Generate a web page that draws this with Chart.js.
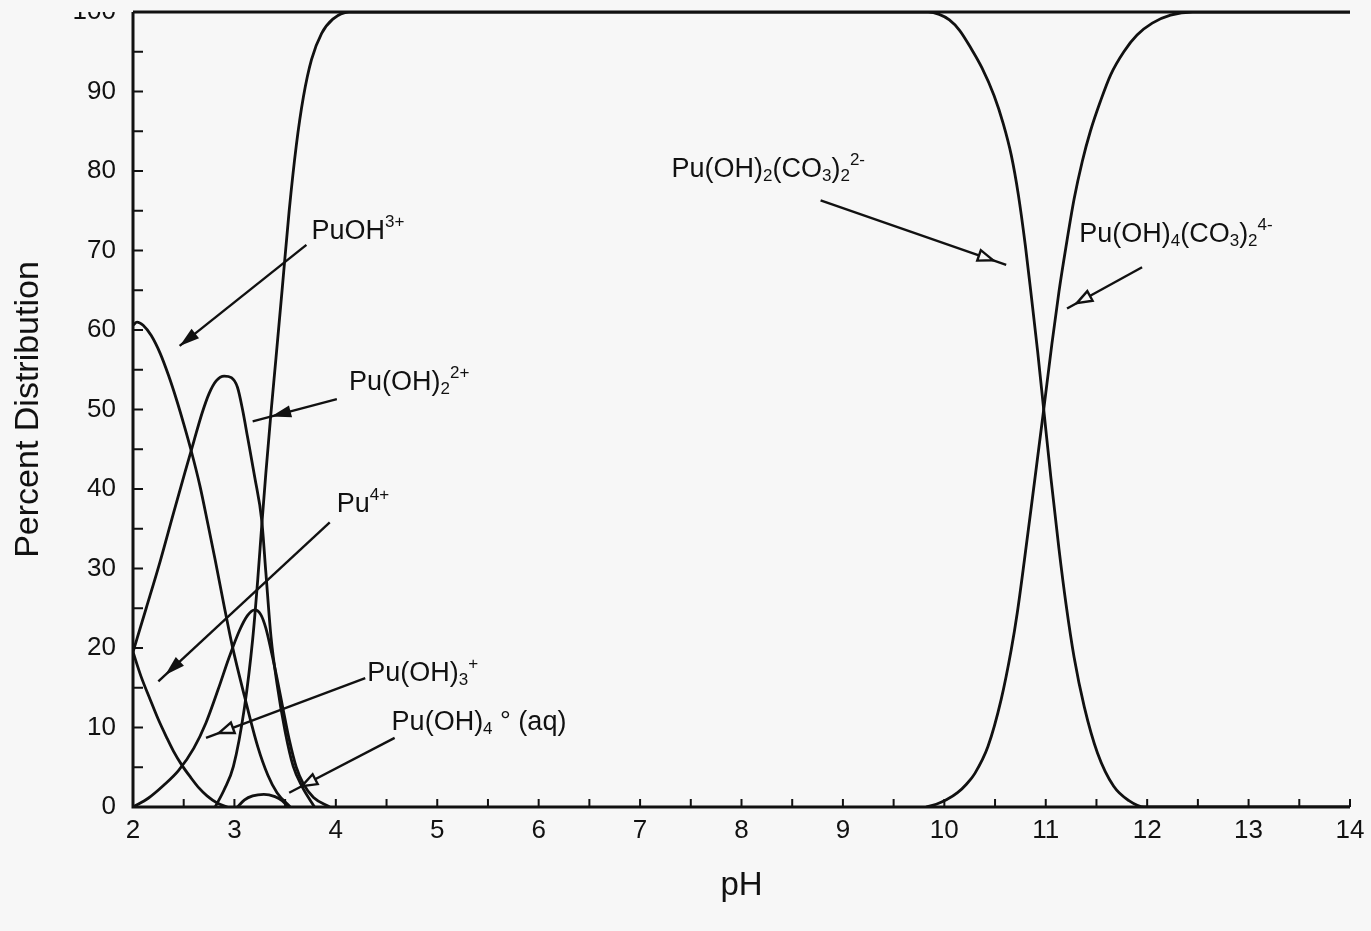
<!DOCTYPE html>
<html>
<head>
<meta charset="utf-8">
<title>Pu(IV) speciation vs pH</title>
<script src="https://cdn.jsdelivr.net/npm/chart.js@4.4.1/dist/chart.umd.min.js"></script>
<style>
  html, body { margin: 0; padding: 0; background: #f7f7f7; }
  #wrap { width: 1371px; height: 931px; }
</style>
</head>
<body>
<div id="wrap"><canvas id="speciation" width="1371" height="931"></canvas></div>
<script>
const FONT = "'Liberation Sans', Arial, Helvetica, sans-serif";
const INK = "#111";
const PAPER = "#f7f7f7";

// axis ticks
const phTicks = [2, 3, 4, 5, 6, 7, 8, 9, 10, 11, 12, 13, 14];
const pctTicks = [0, 10, 20, 30, 40, 50, 60, 70, 80, 90, 100];

// Pu4+
const phPu4 = [2.0, 2.08, 2.17, 2.25, 2.33, 2.4, 2.48, 2.57, 2.65, 2.73, 2.83, 2.93];
const pctPu4 = [19.5, 16.4, 13.5, 11.0, 8.8, 7.0, 5.3, 3.7, 2.4, 1.4, 0.5, 0];

// PuOH3+
const phPuOH = [2.0, 2.04, 2.1, 2.18, 2.27, 2.35, 2.43, 2.5, 2.57, 2.66, 2.74, 2.81, 2.9, 2.98, 3.1, 3.23, 3.33, 3.42, 3.55];
const pctPuOH = [60.6, 61.0, 60.6, 59.3, 57.0, 54.3, 51.2, 48.2, 45.0, 40.4, 35.5, 31.1, 25.2, 20.2, 13.9, 7.6, 4.0, 1.8, 0];

// Pu(OH)2 2+
const phPuOH2 = [2.0, 2.13, 2.27, 2.4, 2.51, 2.6, 2.68, 2.75, 2.82, 2.9, 2.97, 3.03, 3.08, 3.13, 3.2, 3.27, 3.31, 3.36, 3.42, 3.5, 3.58, 3.67, 3.79];
const pctPuOH2 = [19.5, 25.0, 31.0, 37.0, 42.0, 46.0, 49.5, 52.0, 53.6, 54.2, 54.0, 52.8, 50.0, 46.5, 41.5, 36.0, 29.5, 21.5, 15.5, 9.5, 5.1, 2.5, 0];

// Pu(OH)3+
const phPuOH3 = [2.0, 2.15, 2.3, 2.45, 2.6, 2.72, 2.84, 2.95, 3.05, 3.13, 3.2, 3.26, 3.31, 3.36, 3.42, 3.48, 3.54, 3.61, 3.68, 3.78, 3.94];
const pctPuOH3 = [0, 1.1, 2.7, 4.6, 7.4, 10.6, 14.8, 18.9, 22.2, 24.1, 24.8, 24.2, 22.5, 19.8, 16.2, 12.3, 8.5, 5.0, 2.9, 1.2, 0];

// Pu(OH)4 (aq)
const phPuOH4 = [3.03, 3.1, 3.18, 3.29, 3.4, 3.47, 3.53];
const pctPuOH4 = [0, 0.9, 1.4, 1.6, 1.3, 0.8, 0];

// Pu(OH)2(CO3)2 2-
const phCarb2 = [2.81, 2.9, 2.99, 3.1, 3.18, 3.23, 3.27, 3.31, 3.36, 3.41, 3.47, 3.54, 3.61, 3.68, 3.76, 3.86, 3.97, 4.13,
  9.84, 9.95, 10.05, 10.15, 10.26, 10.37, 10.49, 10.58, 10.66, 10.73, 10.8, 10.86, 10.92, 10.98, 11.05, 11.13, 11.2, 11.28, 11.38, 11.51, 11.67, 11.82, 11.97, 14];
const pctCarb2 = [0, 2.2, 5.1, 12.6, 21.1, 28.6, 35.5, 42.0, 49.5, 56.5, 65.0, 75.0, 83.2, 89.3, 94.0, 97.3, 99.1, 100,
  100, 99.7, 99.0, 97.7, 95.5, 93.0, 89.5, 86.0, 82.0, 77.0, 70.5, 64.0, 57.3, 50.0, 41.5, 32.5, 25.5, 18.8, 12.6, 6.8, 2.6, 0.8, 0, 0];

// Pu(OH)4(CO3)2 4-
const phCarb4 = [9.82, 9.92, 10.02, 10.13, 10.22, 10.3, 10.43, 10.56, 10.66, 10.72, 10.79, 10.88, 10.98, 11.06, 11.13, 11.2, 11.28, 11.36, 11.44, 11.54, 11.64, 11.77, 11.9, 12.05, 12.23, 12.45, 14];
const pctCarb4 = [0, 0.35, 0.9, 1.8, 2.9, 4.2, 7.6, 13.5, 19.8, 24.5, 31.1, 40.0, 50.0, 58.2, 64.8, 70.5, 76.5, 81.2, 85.0, 88.8, 92.1, 95.0, 97.1, 98.6, 99.6, 100, 100];

const species = [
  ["Pu4+", phPu4, pctPu4],
  ["PuOH3+", phPuOH, pctPuOH],
  ["Pu(OH)2 2+", phPuOH2, pctPuOH2],
  ["Pu(OH)3+", phPuOH3, pctPuOH3],
  ["Pu(OH)4(aq)", phPuOH4, pctPuOH4],
  ["Pu(OH)2(CO3)2 2-", phCarb2, pctCarb2],
  ["Pu(OH)4(CO3)2 4-", phCarb4, pctCarb4],
];

// labels: text runs ("n" normal, "sub", "sup") placed at [pH, %],
// leader from -> to, head tip at fraction t along the leader
const callouts = [
  { parts: [["PuOH", "n"], ["3+", "sup"]], at: [3.76, 71.5],
    from: [3.71, 70.7], to: [2.46, 58.0], t: 1, filled: true },
  { parts: [["Pu(OH)", "n"], ["2", "sub"], ["2+", "sup"]], at: [4.13, 52.4],
    from: [4.01, 51.3], to: [3.18, 48.5], t: 0.78, filled: true },
  { parts: [["Pu", "n"], ["4+", "sup"]], at: [4.01, 37.1],
    from: [3.94, 35.8], to: [2.25, 15.8], t: 0.96, filled: true },
  { parts: [["Pu(OH)", "n"], ["3", "sub"], ["+", "sup"]], at: [4.31, 15.8],
    from: [4.29, 16.2], to: [2.72, 8.7], t: 0.92, filled: false },
  { parts: [["Pu(OH)", "n"], ["4", "sub"], [" \u00b0 (aq)", "n"]], at: [4.55, 9.7],
    from: [4.58, 8.7], to: [3.54, 1.8], t: 0.88, filled: false },
  { parts: [["Pu(OH)", "n"], ["2", "sub"], ["(CO", "n"], ["3", "sub"], [")", "n"], ["2", "sub"], ["2-", "sup"]], at: [7.31, 79.3],
    from: [8.78, 76.3], to: [10.61, 68.2], t: 0.93, filled: false },
  { parts: [["Pu(OH)", "n"], ["4", "sub"], ["(CO", "n"], ["3", "sub"], [")", "n"], ["2", "sub"], ["4-", "sup"]], at: [11.33, 71.1],
    from: [11.95, 67.9], to: [11.21, 62.7], t: 0.87, filled: false },
];

const paperPlugin = {
  id: "paper",
  beforeDraw(chart) {
    const { ctx, width, height } = chart;
    ctx.save();
    ctx.fillStyle = PAPER;
    ctx.fillRect(0, 0, width, height);
    ctx.restore();
  },
};

// frame lines and inward tick marks (major + half steps)
const framePlugin = {
  id: "frame",
  afterDatasetsDraw(chart) {
    const { ctx, chartArea: a, scales: { x, y } } = chart;
    ctx.save();
    ctx.strokeStyle = INK;
    ctx.lineWidth = 3;
    ctx.beginPath();
    ctx.moveTo(a.left, a.top);
    ctx.lineTo(a.left, a.bottom);
    ctx.lineTo(a.right, a.bottom);
    ctx.moveTo(a.left, a.top);
    ctx.lineTo(a.right, a.top);
    ctx.stroke();

    ctx.lineWidth = 2;
    ctx.beginPath();
    for (let v = 2.5; v < 14.01; v += 0.5) {
      const px = x.getPixelForValue(v);
      ctx.moveTo(px, a.bottom);
      ctx.lineTo(px, a.bottom - 8);
    }
    for (let v = 5; v < 100; v += 5) {
      const py = y.getPixelForValue(v);
      ctx.moveTo(a.left, py);
      ctx.lineTo(a.left + 10, py);
    }
    ctx.stroke();
    ctx.restore();
  },
  afterDraw(chart) {
    // top band trims the upper half of the "100" label
    const { ctx, chartArea: a } = chart;
    ctx.save();
    ctx.fillStyle = PAPER;
    ctx.fillRect(0, 0, a.left - 6, a.top);
    ctx.restore();
  },
};

const calloutPlugin = {
  id: "callouts",
  afterDatasetsDraw(chart) {
    const { ctx, scales: { x, y } } = chart;
    ctx.save();
    ctx.fillStyle = INK;
    ctx.strokeStyle = INK;
    ctx.textBaseline = "alphabetic";
    callouts.forEach((c) => {
      let px = x.getPixelForValue(c.at[0]);
      const base = y.getPixelForValue(c.at[1]);
      c.parts.forEach(([str, kind]) => {
        const small = kind !== "n";
        ctx.font = `${small ? 17 : 27}px ${FONT}`;
        const dy = kind === "sub" ? 4 : kind === "sup" ? -12 : 0;
        ctx.fillText(str, px, base + dy);
        px += ctx.measureText(str).width;
      });

      const x0 = x.getPixelForValue(c.from[0]);
      const y0 = y.getPixelForValue(c.from[1]);
      const x1 = x.getPixelForValue(c.to[0]);
      const y1 = y.getPixelForValue(c.to[1]);
      ctx.lineWidth = 2.4;
      ctx.beginPath();
      ctx.moveTo(x0, y0);
      ctx.lineTo(x1, y1);
      ctx.stroke();

      const len = Math.hypot(x1 - x0, y1 - y0);
      const ux = (x1 - x0) / len;
      const uy = (y1 - y0) / len;
      const tipX = x0 + (x1 - x0) * c.t;
      const tipY = y0 + (y1 - y0) * c.t;
      const L = c.filled ? 20 : 15;
      const W = c.filled ? 6 : 5.5;
      const bx = tipX - ux * L;
      const by = tipY - uy * L;
      ctx.beginPath();
      ctx.moveTo(tipX, tipY);
      ctx.lineTo(bx - uy * W, by + ux * W);
      ctx.lineTo(bx + uy * W, by - ux * W);
      ctx.closePath();
      if (c.filled) {
        ctx.fill();
      } else {
        ctx.fillStyle = PAPER;
        ctx.fill();
        ctx.fillStyle = INK;
        ctx.stroke();
      }
    });
    ctx.restore();
  },
};

const ctx = document.getElementById("speciation").getContext("2d");

new Chart(ctx, {
  type: "line",
  data: {
    datasets: species.map(([name, ph, pct]) => ({
      label: name,
      data: ph.map((v, i) => ({ x: v, y: pct[i] })),
      borderColor: INK,
      borderWidth: 2.8,
      pointRadius: 0,
      fill: false,
      cubicInterpolationMode: "monotone",
    })),
  },
  options: {
    responsive: false,
    animation: false,
    layout: { padding: { top: 12, right: 21, bottom: 0, left: 0 } },
    plugins: {
      legend: { display: false },
      tooltip: { enabled: false },
    },
    scales: {
      x: {
        type: "linear",
        min: 2,
        max: 14,
        afterBuildTicks: (scale) => {
          scale.ticks = phTicks.map((v) => ({ value: v }));
        },
        afterFit: (scale) => {
          scale.height = 124;
          scale.paddingLeft = 0;
          scale.paddingRight = 0;
        },
        grid: { display: false, drawTicks: false },
        border: { display: false },
        ticks: {
          color: INK,
          autoSkip: false,
          maxRotation: 0,
          padding: 11,
          font: { family: FONT, size: 26, lineHeight: 1 },
        },
        title: {
          display: true,
          text: "pH",
          color: INK,
          font: { family: FONT, size: 33, lineHeight: 1 },
          padding: { top: 0, bottom: 29 },
        },
      },
      y: {
        min: 0,
        max: 100,
        afterBuildTicks: (scale) => {
          scale.ticks = pctTicks.map((v) => ({ value: v }));
        },
        afterFit: (scale) => {
          scale.width = 133;
          scale.paddingTop = 0;
          scale.paddingBottom = 0;
        },
        grid: { display: false, drawTicks: false },
        border: { display: false },
        ticks: {
          color: INK,
          padding: 17,
          font: { family: FONT, size: 26, lineHeight: 1 },
        },
        title: {
          display: true,
          text: "Percent Distribution",
          color: INK,
          font: { family: FONT, size: 34, lineHeight: 1 },
          padding: { top: 12, bottom: 0 },
        },
      },
    },
  },
  plugins: [paperPlugin, framePlugin, calloutPlugin],
});
</script>
</body>
</html>
